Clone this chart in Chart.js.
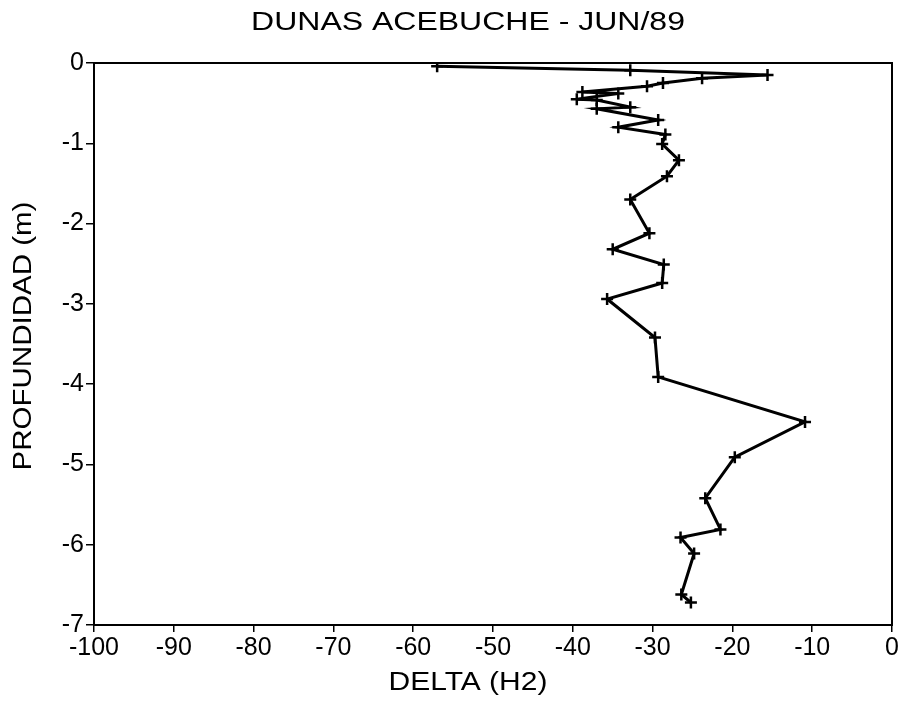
<!DOCTYPE html>
<html>
<head>
<meta charset="utf-8">
<title>DUNAS ACEBUCHE - JUN/89</title>
<script src="https://cdn.jsdelivr.net/npm/chart.js@4"></script>
<style>
  html, body { margin: 0; padding: 0; background: #fff; }
  canvas { display: block; }
</style>
</head>
<body>
<canvas id="chart" width="905" height="704"></canvas>
<script>
// perfil isotopico: delta H2 frente a profundidad
const profundidad = [-0.04, -0.09, -0.15, -0.19, -0.25, -0.29, -0.36, -0.38, -0.45, -0.46,
  -0.55, -0.57, -0.71, -0.80, -0.89, -1.01, -1.21, -1.41, -1.70, -2.12,
  -2.32, -2.51, -2.74, -2.94, -3.42, -3.91, -4.47, -4.91, -5.42, -5.81,
  -5.91, -6.11, -6.62, -6.72];
const deltaH2 = [-57.0, -32.8, -15.6, -23.8, -28.7, -30.7, -38.8, -34.3, -39.5, -37.0,
  -32.8, -37.0, -29.3, -34.3, -28.4, -28.8, -26.7, -28.2, -32.8, -30.4,
  -35.0, -28.6, -28.8, -35.7, -29.7, -29.3, -10.9, -19.7, -23.4, -21.5,
  -26.5, -24.8, -26.4, -25.2];

const titulo = 'DUNAS ACEBUCHE - JUN/89';
const tituloX = 'DELTA (H2)';
const tituloY = 'PROFUNDIDAD (m)';

const puntos = deltaH2.map((d, i) => ({ x: d, y: profundidad[i] }));

const fuente = "'Liberation Sans', Arial, Helvetica, sans-serif";

// marco completo alrededor del area del grafico
const marco = {
  id: 'marco',
  afterDraw(chart) {
    const { ctx, chartArea } = chart;
    ctx.save();
    ctx.strokeStyle = '#000';
    ctx.lineWidth = 2;
    ctx.strokeRect(chartArea.left, chartArea.top, chartArea.right - chartArea.left, chartArea.bottom - chartArea.top);
    ctx.restore();
  }
};

// texto ensanchado en horizontal (rotulos del plotter)
function textoAncho(ctx, texto, x, y, size, ancho, angulo) {
  ctx.save();
  ctx.font = size + 'px ' + fuente;
  ctx.fillStyle = '#000';
  ctx.textAlign = 'center';
  ctx.textBaseline = 'middle';
  ctx.translate(x, y);
  if (angulo) ctx.rotate(angulo);
  ctx.scale(ancho, 1);
  ctx.fillText(texto, 0, 0);
  ctx.restore();
}

const rotulos = {
  id: 'rotulos',
  afterDraw(chart) {
    const { ctx, chartArea } = chart;
    const cx = 468;
    textoAncho(ctx, titulo, cx, 23, 25, 1.28);
    textoAncho(ctx, tituloX, cx, 683, 25, 1.2);
    textoAncho(ctx, tituloY, 24, (chartArea.top + chartArea.bottom) / 2 - 8, 25, 1.18, -Math.PI / 2);
  }
};

const ctx = document.getElementById('chart').getContext('2d');
const chart = new Chart(ctx, {
  type: 'scatter',
  data: {
    datasets: [{
      data: puntos,
      showLine: true,
      borderColor: '#000',
      borderWidth: 3,
      pointStyle: 'cross',
      pointRadius: 6,
      pointBorderWidth: 2.5,
      pointBorderColor: '#000',
      pointBackgroundColor: '#000',
      tension: 0
    }]
  },
  options: {
    responsive: false,
    animation: false,
    devicePixelRatio: 1,
    layout: { padding: { top: 63, right: 13, bottom: 0, left: 0 } },
    plugins: {
      legend: { display: false },
      tooltip: { enabled: false },
      title: { display: false }
    },
    scales: {
      x: {
        type: 'linear',
        min: -100,
        max: 0,
        ticks: { stepSize: 10, color: '#000', font: { family: fuente, size: 25 }, padding: 1, maxRotation: 0 },
        grid: { drawOnChartArea: false, drawTicks: true, tickLength: 7, color: '#000', lineWidth: 1.5 },
        border: { display: true, color: '#000', width: 2 },
        afterFit(scale) { scale.height = 79; }
      },
      y: {
        type: 'linear',
        min: -7,
        max: 0,
        ticks: { stepSize: 1, color: '#000', font: { family: fuente, size: 25 }, padding: 2 },
        grid: { drawOnChartArea: false, drawTicks: true, tickLength: 8, color: '#000', lineWidth: 1.5 },
        border: { display: true, color: '#000', width: 2 },
        afterFit(scale) { scale.width = 94; }
      }
    }
  },
  plugins: [marco, rotulos]
});
</script>
</body>
</html>
